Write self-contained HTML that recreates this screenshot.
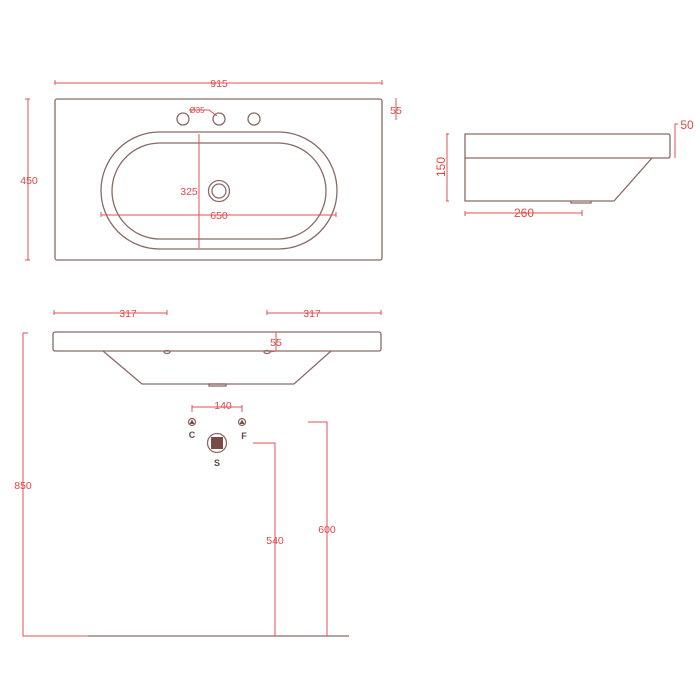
<!DOCTYPE html>
<html><head><meta charset="utf-8"><style>
html,body{margin:0;padding:0;background:#fff;}
svg{display:block;}
text{font-family:"Liberation Sans",sans-serif;}
</style></head><body>
<svg width="700" height="700" viewBox="0 0 700 700" xmlns="http://www.w3.org/2000/svg">
<g fill="none" stroke="#8a6a66" stroke-width="1.3">
  <rect x="55" y="99" width="327" height="161" rx="2"/>
  <circle cx="183" cy="119" r="6"/>
  <circle cx="219" cy="119" r="6"/>
  <circle cx="254" cy="119" r="6"/>
  <rect x="101" y="132" width="236" height="117" rx="58.5"/>
  <rect x="112" y="143" width="214" height="96" rx="48"/>
  <circle cx="219" cy="191" r="10.5"/>
  <circle cx="219" cy="191" r="7"/>
  <path d="M465,134 H668 Q670,134 670,136 V156 Q670,158 668,158 H465 Z"/>
  <path d="M465,158 V201 H614 L652,158"/>
  <path d="M571,201 V203 H591 V201"/>
  <rect x="53" y="332" width="328" height="19" rx="2"/>
  <path d="M103,351 L142,384 H294 L331,351"/>
  <rect x="209" y="384" width="17" height="2"/>
  <ellipse cx="167" cy="352" rx="3" ry="1.5"/>
  <ellipse cx="267" cy="352" rx="3" ry="1.5"/>
  <line x1="88" y1="636" x2="349" y2="636"/>
  <circle cx="192" cy="422" r="3.5"/>
  <circle cx="242" cy="422" r="3.5"/>
  <circle cx="217" cy="443" r="9.5"/>
</g>
<g fill="#7a4a44">
  <polygon points="192,419.5 194.5,424 189.5,424"/>
  <polygon points="242,419.5 244.5,424 239.5,424"/>
  <rect x="211" y="437" width="12" height="12"/>
</g>
<g fill="none" stroke="#e05050" stroke-width="1">
  <path d="M55,80 V85 M55,83 H382 M382,80 V85"/>
  <path d="M25,99 H30 M28,99 V260 M25,260 H30"/>
  <path d="M396,98 V120"/>
  <path d="M189,110 H209 L217,116"/>
  <path d="M199,134 V248"/>
  <path d="M101,212 V217 M101,215 H336 M336,212 V217"/>
  <path d="M446,134 H449 M447,134 V201 M446,201 H449"/>
  <path d="M465,211 V216 M465,213 H582 M582,210 V216"/>
  <path d="M675,158 V124 H678"/>
  <path d="M54,310 V315 M54,313 H167 M167,310 V315"/>
  <path d="M267,310 V315 M267,313 H381 M381,310 V315"/>
  <path d="M276,332 V351 L270,352"/>
  <path d="M192,405 V412 M192,407 H242 M242,405 V412"/>
  <path d="M23,333 V636 H88 M23,333 H28"/>
  <path d="M253,443 H275 V636"/>
  <path d="M308,422 H327 V636"/>
</g>
<g fill="#e04848" font-size="10.5" text-anchor="middle">
  <text x="219" y="87">915</text>
  <text x="29" y="184">450</text>
  <text x="396" y="114">55</text>
  <text x="197" y="113" font-size="8">Ø35</text>
  <text x="189" y="195">325</text>
  <text x="219" y="219">650</text>
  <text x="441" y="167" transform="rotate(-90 441 167)" dy="4" font-size="12">150</text>
  <text x="524" y="217" font-size="12">260</text>
  <text x="687" y="129" font-size="12">50</text>
  <text x="128" y="317">317</text>
  <text x="312" y="317">317</text>
  <text x="276" y="346">55</text>
  <text x="223" y="409">140</text>
  <text x="23" y="489">850</text>
  <text x="275" y="544">540</text>
  <text x="327" y="533">600</text>
</g>
<g fill="#5a4a48" font-size="9" font-weight="bold" text-anchor="middle">
  <text x="192" y="438">C</text>
  <text x="244" y="439">F</text>
  <text x="217" y="466">S</text>
</g>
</svg>
</body></html>
